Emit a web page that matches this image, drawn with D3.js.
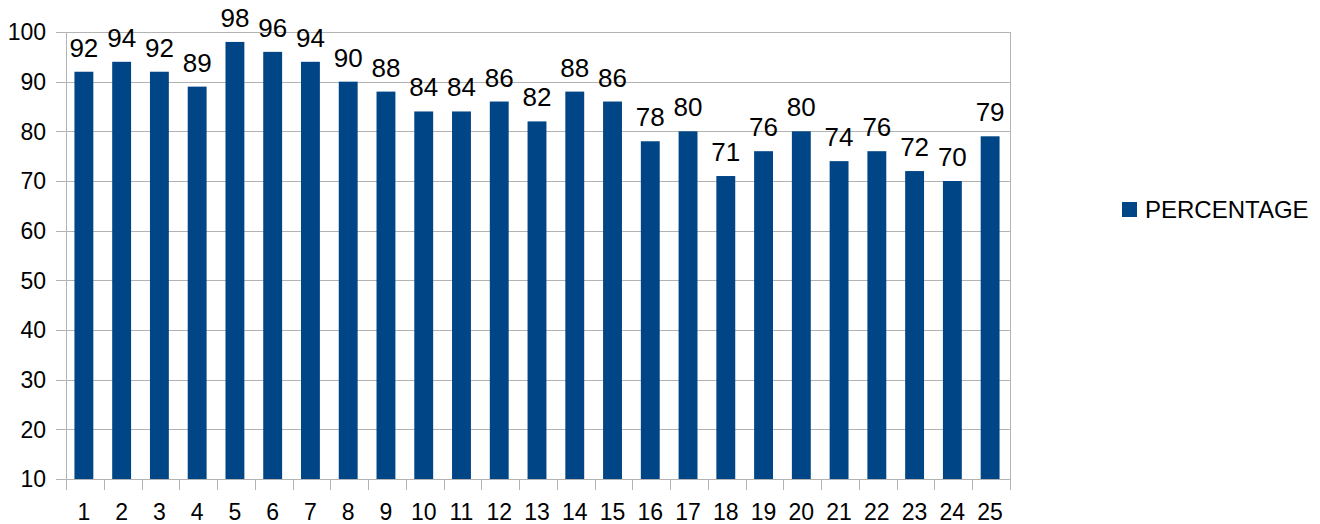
<!DOCTYPE html>
<html>
<head>
<meta charset="utf-8">
<script src="https://cdn.jsdelivr.net/npm/d3@7"></script>
<style>
  body { margin: 0; background: #fff; }
  text { font-family: "Liberation Sans", Arial, sans-serif; fill: #000; }
</style>
</head>
<body>
<div id="chart"></div>
<script>
'use strict';

var categories = ["1","2","3","4","5","6","7","8","9","10","11","12","13","14","15","16","17","18","19","20","21","22","23","24","25"];
var percentage = [92,94,92,89,98,96,94,90,88,84,84,86,82,88,86,78,80,71,76,80,74,76,72,70,79];
var yTicks = [10,20,30,40,50,60,70,80,90,100];
var seriesName = "PERCENTAGE";

var svgWidth = 1320, svgHeight = 524,
    plot = { left: 66, right: 1010, top: 32, bottom: 479 },
    barColor = "#004586",
    gridColor = "#b3b3b3";

var svg = d3.select("#chart")
  .append("svg")
  .attr("width", svgWidth)
  .attr("height", svgHeight);

var x = d3.scaleBand()
  .domain(categories)
  .range([plot.left, plot.right]);

var y = d3.scaleLinear()
  .domain([10, 100])
  .range([plot.bottom, plot.top]);

// horizontal gridlines
svg.append("g")
  .selectAll("line")
  .data(yTicks)
  .join("line")
  .attr("x1", plot.left - 10)
  .attr("x2", plot.right)
  .attr("y1", d => Math.round(y(d)) + 0.5)
  .attr("y2", d => Math.round(y(d)) + 0.5)
  .attr("stroke", gridColor)
  .attr("stroke-width", 1);

// left and right frame lines
svg.append("g")
  .selectAll("line")
  .data([plot.left, plot.right])
  .join("line")
  .attr("x1", d => d + 0.5)
  .attr("x2", d => d + 0.5)
  .attr("y1", plot.top)
  .attr("y2", plot.bottom + 11)
  .attr("stroke", gridColor);

// category ticks below the axis
var bounds = categories.map(c => x(c)).concat([plot.right]);
svg.append("g")
  .selectAll("line")
  .data(bounds)
  .join("line")
  .attr("x1", d => Math.round(d) + 0.5)
  .attr("x2", d => Math.round(d) + 0.5)
  .attr("y1", plot.bottom)
  .attr("y2", plot.bottom + 11)
  .attr("stroke", gridColor);

// y labels
svg.append("g")
  .selectAll("text")
  .data(yTicks)
  .join("text")
  .attr("x", 46)
  .attr("y", d => y(d))
  .attr("dy", "0.36em")
  .attr("text-anchor", "end")
  .style("font-size", "23px")
  .text(d => d);

// x labels
svg.append("g")
  .selectAll("text")
  .data(categories)
  .join("text")
  .attr("x", d => x(d) + x.bandwidth() / 2 - 1)
  .attr("y", 520)
  .attr("text-anchor", "middle")
  .style("font-size", "23px")
  .text(d => d);

// bars
var barW = x.bandwidth() * 0.5;
svg.append("g")
  .selectAll("rect")
  .data(percentage)
  .join("rect")
  .attr("x", (d, i) => x(categories[i]) + (x.bandwidth() - barW) / 2 - 1)
  .attr("y", d => y(d))
  .attr("width", barW)
  .attr("height", d => plot.bottom - y(d))
  .attr("fill", barColor);

// value labels
svg.append("g")
  .selectAll("text")
  .data(percentage)
  .join("text")
  .attr("x", (d, i) => x(categories[i]) + x.bandwidth() / 2 - 1)
  .attr("y", d => y(d) - 15)
  .attr("text-anchor", "middle")
  .style("font-size", "26px")
  .text(d => d);

// legend
var legend = svg.append("g")
  .attr("transform", "translate(1122,202)");
legend.append("rect")
  .attr("width", 15)
  .attr("height", 15)
  .attr("fill", barColor);
legend.append("text")
  .attr("x", 23)
  .attr("y", 16)
  .style("font-size", "24px")
  .text(seriesName);
</script>
</body>
</html>
